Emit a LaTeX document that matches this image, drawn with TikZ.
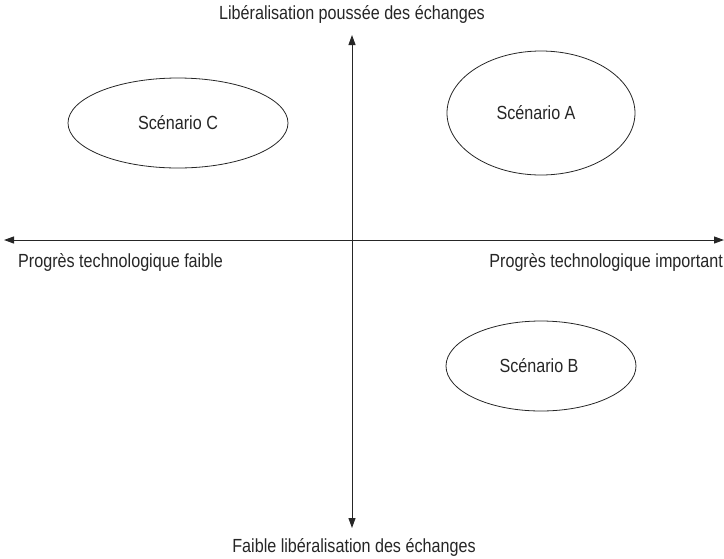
\documentclass[tikz,border=0pt]{standalone}
\usepackage{fontspec}
\setmainfont{Liberation Sans}[FakeStretch=0.85]
\usetikzlibrary{arrows.meta,shapes.geometric}
\begin{document}
\begin{tikzpicture}[x=1pt,y=-1pt,
  axis/.style={line width=1pt, draw=black!85, -{Triangle[length=10pt,width=7pt]}},
  lbl/.style={font=\fontsize{19}{22}\selectfont, text=black!85, inner sep=0pt},
  scen/.style={draw=black!85, line width=0.8pt, ellipse, inner sep=0pt}]
  \useasboundingbox (0,0) rectangle (724,558);
  % axes
  \coordinate (o) at (352,240);
  \coordinate (top) at (352,35);
  \coordinate (bot) at (352,528);
  \coordinate (lft) at (4,240);
  \coordinate (rgt) at (724,240);
  \draw[axis] (o) -- (top);
  \draw[axis] (o) -- (bot);
  \draw[axis] (o) -- (lft);
  \draw[axis] (o) -- (rgt);
  % axis labels
  \node[lbl] (ltop) at (352,14) {Libéralisation poussée des échanges};
  \node[lbl] (lbot) at (354,547) {Faible libéralisation des échanges};
  \node[lbl, anchor=west] (llft) at (18,262) {Progrès technologique faible};
  \node[lbl, anchor=east] (lrgt) at (723,262) {Progrès technologique important};
  % scenarios
  \node[scen, minimum width=220pt, minimum height=90pt] (sc) at (178,123) {};
  \node[lbl] (sct) at (sc.center) {Scénario C};
  \node[scen, minimum width=188pt, minimum height=124pt] (sa) at (541,113) {};
  \node[lbl] (sat) at ([xshift=-5pt]sa.center) {Scénario A};
  \node[scen, minimum width=190pt, minimum height=90pt] (sb) at (541,366) {};
  \node[lbl] (sbt) at ([xshift=-2pt]sb.center) {Scénario B};
\end{tikzpicture}
\end{document}
